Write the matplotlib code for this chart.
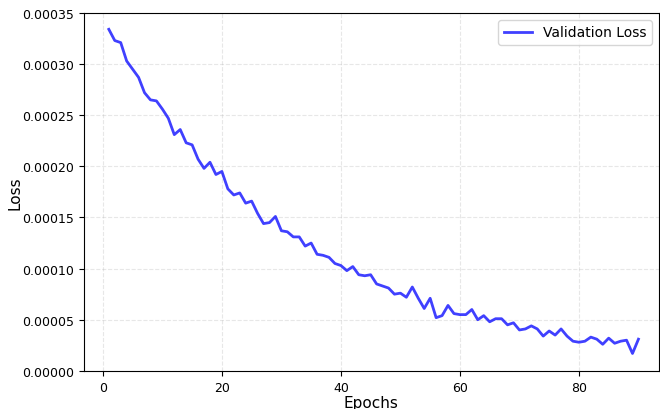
import numpy as np
from matplotlib import pyplot as plt

# validation loss per epoch
epochs = list(range(1, 91))
val_loss = [
    0.000334, 0.000323, 0.000321, 0.000303, 0.000295, 0.000287, 0.000272, 0.000265, 0.000264, 0.000256,
    0.000247, 0.000231, 0.000236, 0.000223, 0.000221, 0.000207, 0.000198, 0.000204, 0.000192, 0.000195,
    0.000178, 0.000172, 0.000174, 0.000164, 0.000166, 0.000154, 0.000144, 0.000145, 0.000151, 0.000137,
    0.000136, 0.000131, 0.000131, 0.000122, 0.000125, 0.000114, 0.000113, 0.000111, 0.000105, 0.000103,
    0.000098, 0.000102, 0.000094, 0.000093, 0.000094, 0.000085, 0.000083, 0.000081, 0.000075, 0.000076,
    0.000072, 0.000082, 0.000071, 0.000061, 0.000071, 0.000052, 0.000054, 0.000064, 0.000056, 0.000055,
    0.000055, 0.000060, 0.000050, 0.000054, 0.000048, 0.000051, 0.000051, 0.000045, 0.000047, 0.000040,
    0.000041, 0.000044, 0.000041, 0.000034, 0.000039, 0.000035, 0.000041, 0.000034, 0.000029, 0.000028,
    0.000029, 0.000033, 0.000031, 0.000026, 0.000032, 0.000027, 0.000029, 0.000030, 0.000017, 0.000031,
]

fig = plt.figure(figsize=(6.6, 4.1), dpi=100)
ax = fig.add_axes([0.127, 0.093, 0.871, 0.873])
ax.plot(epochs, val_loss, color='blue', alpha=0.75, linewidth=2, label='Validation Loss')
ax.set_xlabel('Epochs', fontsize=11, labelpad=1)
ax.set_ylabel('Loss', fontsize=11, labelpad=0)
ax.set_xlim(-3.2, 93.4)
ax.set_ylim(0, 0.00035)
ax.set_xticks([0, 20, 40, 60, 80])
ax.set_yticks(np.arange(0, 0.000351, 0.00005))
ax.yaxis.set_major_formatter(plt.FormatStrFormatter('%.5f'))
ax.tick_params(labelsize=9)
ax.grid(True, linestyle='--', alpha=0.3)
ax.legend(loc='upper right', fontsize=10)
fig.savefig('out.png')
